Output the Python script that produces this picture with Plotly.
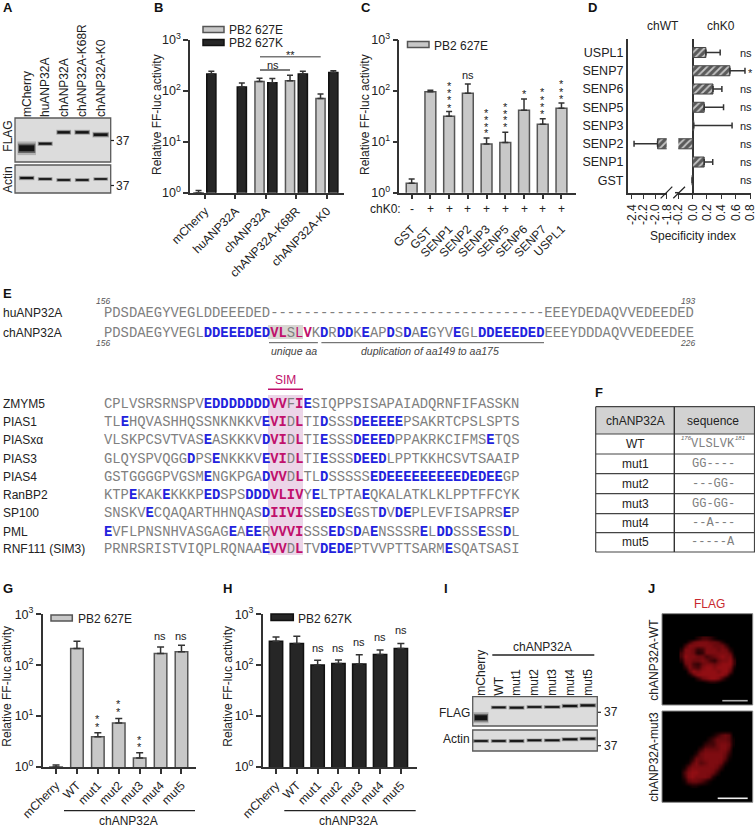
"""
Multi-panel figure: ANP32A SIM motif, polymerase activity and blots.
"""

import re
import plotly.graph_objects as go

W, H = 755, 828

# ── Colours ────────────────────────────────────────────────────────────────
INK = "#222222"
AXIS = "#333333"
LIGHT_BAR = "#c8c8c8"
LIGHT_EDGE = "#555555"
DARK_BAR = "#262626"
DARK_EDGE = "#111111"
GREY_SEQ = "#808080"
BLUE_SEQ = "#2222dd"
PINK_SEQ = "#c0106c"
BLOT_BG = "#dcdcdc"

# ── Data: panel B ──────────────────────────────────────────────────────────
b_groups = ["mCherry", "huANP32A", "chANP32A", "chANP32A-K68R", "chANP32A-K0"]
b_627e = [1.0, None, 150, 155, 70]
b_627e_top = [1.1, None, 175, 200, 86]
b_627k = [212, 117, 143, 212, 225]
b_627k_top = [240, 140, 172, 240, 245]

# ── Data: panel C ──────────────────────────────────────────────────────────
c_names = ["GST", "GST ", "SENP1", "SENP2", "SENP3", "SENP5", "SENP6", "SENP7", "USPL1"]
c_chk0 = ["-", "+", "+", "+", "+", "+", "+", "+", "+"]
c_vals = [1.53, 95, 31.5, 89, 9, 9.6, 41, 22, 45]
c_tops = [1.85, 102, 38.7, 135, 11.8, 15.3, 68, 28, 57]

# ── Data: panel D ──────────────────────────────────────────────────────────
d_names = ["GST", "SENP1", "SENP2", "SENP3", "SENP5", "SENP6", "SENP7", "USPL1"]
d_vals = [-0.008, 0.161, -1.957, 0.015, 0.161, 0.284, 0.52, 0.185]
d_tops = [0.004, 0.28, -1.957, 0.55, 0.431, 0.408, 0.73, 0.384]
d_senp2_low = -2.36
d_sig = ["ns", "ns", "ns", "ns", "ns", "ns", "*", "ns"]
d_left_ticks = [-2.4, -2.2, -2.0, -1.8]
d_right_ticks = [-0.2, 0.0, 0.2, 0.4, 0.6, 0.8]

# ── Data: panels G and H ───────────────────────────────────────────────────
mut_names = ["mCherry", "WT", "mut1", "mut2", "mut3", "mut4", "mut5"]
g_vals = [1.0, 212, 3.93, 7.3, 1.5, 169, 183]
g_tops = [1.09, 295, 4.7, 9.0, 1.91, 229, 247]
h_vals = [295, 266, 101, 108, 106, 162, 212]
h_tops = [360, 370, 125, 127, 160, 200, 266]

# ── Data: blots (lane, distance from top of membrane, lane width, thickness) ──
a_lanes = ["mCherry", "huANP32A", "chANP32A", "chANP32A-K68R", "chANP32A-K0"]
a_flag_y = [30.3, 25.7, 14.3, 14.3, 16.7]
a_flag_w = [1.0, 0.82, 0.8, 0.85, 0.9]
a_flag_t = [8.5, 2.8, 3.2, 3.2, 3.6]
a_actin_y = [13, 14, 15, 15, 14]
a_actin_w = [0.85, 0.8, 0.8, 0.8, 0.8]
a_actin_t = [2.8, 2.4, 2.4, 2.4, 2.2]

i_lanes = ["mCherry", "WT", "mut1", "mut2", "mut3", "mut4", "mut5"]
i_flag_y = [21, 10.7, 11, 10.3, 10.3, 9.3, 8.7]
i_flag_w = [0.85, 0.9, 0.9, 0.9, 0.95, 0.95, 0.95]
i_flag_t = [7.0, 2.4, 2.6, 2.4, 2.4, 2.8, 2.8]
i_actin_y = [11, 11, 11, 10.3, 10.3, 9.3, 8.7]
i_actin_w = [0.9, 0.9, 0.9, 0.9, 0.95, 0.95, 0.95]
i_actin_t = [2.4, 2.4, 2.6, 2.4, 2.4, 2.6, 2.6]

# ── Data: confocal intensity (0 to 9) ──────────────────────────────────────
nucleus_wt = [
    [0, 0, 0, 0, 2, 4, 4, 3, 1, 0, 0, 0, 0, 0],
    [0, 0, 3, 6, 7, 7, 7, 6, 6, 5, 2, 0, 0, 0],
    [0, 4, 7, 7, 7, 7, 7, 7, 6, 6, 6, 3, 0, 0],
    [2, 7, 7, 6, 3, 4, 7, 7, 7, 6, 7, 6, 2, 0],
    [4, 7, 7, 6, 2, 3, 7, 7, 7, 7, 7, 7, 5, 0],
    [4, 8, 7, 7, 6, 6, 4, 5, 6, 7, 8, 7, 7, 1],
    [2, 7, 7, 6, 6, 7, 6, 4, 3, 6, 7, 7, 8, 3],
    [0, 6, 7, 4, 3, 6, 7, 7, 6, 7, 8, 8, 8, 3],
    [0, 3, 7, 5, 4, 7, 8, 8, 7, 8, 8, 8, 7, 1],
    [0, 0, 5, 8, 7, 8, 8, 8, 8, 7, 8, 8, 5, 0],
    [0, 0, 1, 5, 8, 8, 8, 8, 8, 8, 8, 6, 1, 0],
    [0, 0, 0, 0, 3, 6, 7, 8, 8, 7, 4, 1, 0, 0],
    [0, 0, 0, 0, 0, 0, 1, 2, 2, 1, 0, 0, 0, 0],
]
nucleus_mut3 = [
    [0, 0, 0, 0, 0, 0, 0, 0, 0, 0, 0, 0, 0, 0],
    [0, 0, 0, 0, 0, 0, 0, 0, 1, 3, 5, 6, 5, 0],
    [0, 0, 0, 0, 0, 0, 0, 2, 4, 6, 6, 6, 5, 1],
    [0, 0, 0, 0, 0, 0, 3, 4, 4, 6, 7, 7, 6, 1],
    [0, 0, 0, 0, 0, 3, 6, 6, 6, 6, 7, 7, 5, 0],
    [0, 0, 0, 0, 2, 6, 7, 7, 7, 7, 7, 6, 3, 0],
    [0, 0, 0, 2, 6, 6, 7, 7, 7, 7, 7, 5, 1, 0],
    [0, 0, 1, 5, 7, 5, 6, 7, 7, 7, 6, 2, 0, 0],
    [0, 1, 5, 7, 7, 7, 7, 7, 7, 6, 3, 0, 0, 0],
    [0, 4, 7, 8, 8, 7, 7, 7, 6, 3, 0, 0, 0, 0],
    [0, 3, 7, 8, 7, 7, 7, 6, 2, 0, 0, 0, 0, 0],
    [0, 1, 5, 6, 6, 5, 3, 1, 0, 0, 0, 0, 0, 0],
    [0, 0, 0, 1, 1, 0, 0, 0, 0, 0, 0, 0, 0, 0],
]

# ── Data: alignments. [x] blue, {x} pink bold, (x) pink ────────────────────
top_names = ["huANP32A", "chANP32A"]
top_rows = [
    "PDSDAEGYVEGLDDEEEDED" + "-" * 33 + "EEEYDEDAQVVEDEEDED",
    "PDSDAEGYVEGL[DDEEEDED]{VL}S(L){V}K[D]R[DD]K[E]AP[D]S[D]A[E]GYV[E]GL[DDEEEDED]EEEYDDDAQVVEDEEDEE",
]
sim_names = ["ZMYM5", "PIAS1", "PIASxα", "PIAS3", "PIAS4", "RanBP2", "SP100", "PML", "RNF111 (SIM3)"]
sim_rows = [
    "CPLVSRSRNSPV[EDDDDDDD]{VV}F{I}[E]SIQPPSISAPAIADQRNFIFASSKN",
    "TL[E]HQVASHHQSSNKNKKV[E]{VI}D{L}TI[D]SSS[DEEEEE]PSAKRTCPSLSPTS",
    "VLSKPCSVTVAS[E]ASKKKV[D]{VI}D{L}TI[E]SSS[DEEED]PPAKRKCIFMS[E]TQS",
    "GLQYSPVQGG[D]PS[E]NKKKV[E]{VI}D{L}TI[E]SSS[DEED]LPPTKKHCSVTSAAIP",
    "GSTGGGGPVGSM[E]NGKPGA[D]{VV}D{L}TL[D]SSSSS[EDEEEEEEEEEDEDEE]GP",
    "KTP[E]KAK[E]KKKP[ED]SPS[DDD]{VLIV}Y[E]LTPTA[E]QKALATKLKLPPTFFCYK",
    "SNSKV[E]CQAQARTHHNQAS[D]{IIVI}SS[ED]S[E]GST[D]V[DE]PLEVFISAPRS[E]P",
    "[E]VFLPNSNHVASGAG[E]A[EE]R{VVVI}SSS[ED]S[D]A[E]NSSSR[E]L[DD]SSS[E]SS[D]L",
    "PRNRSRISTVIQPLRQNAA[E]{VV}D{L}TV[DEDE]PTVVPTTSARM[E]SQATSASI",
]

# ── Data: panel F ──────────────────────────────────────────────────────────
f_header = ["chANP32A", "sequence"]
f_names = ["WT", "mut1", "mut2", "mut3", "mut4", "mut5"]
f_seqs = ["VLSLVK", "GG----", "---GG-", "GG-GG-", "--A---", "-----A"]


# ── Helpers (pixel to paper) ───────────────────────────────────────────────
def xd(x0, x1):
    return [x0 / W, x1 / W]


def yd(top, bottom):
    return [1 - bottom / H, 1 - top / H]


annotations = []
shapes = []


def txt(x, y, text, size=12, color=INK, anchor="center", angle=0, family=None, vanchor="middle"):
    font = dict(size=size, color=color)
    if family:
        font["family"] = family
    annotations.append(dict(
        x=x / W, y=1 - y / H, xref="paper", yref="paper", text=text, showarrow=False,
        font=font, xanchor=anchor, yanchor=vanchor, textangle=angle, borderpad=0,
    ))


def rect(x0, y0, x1, y1, fill, line=None, width=1, layer="below"):
    shapes.append(dict(
        type="rect", xref="paper", yref="paper", x0=x0 / W, x1=x1 / W, y0=1 - y0 / H, y1=1 - y1 / H,
        fillcolor=fill, line=dict(color=line or fill, width=width if line else 0), layer=layer,
    ))


def hline(x0, y0, x1, y1, color=INK, width=1.2):
    shapes.append(dict(
        type="line", xref="paper", yref="paper", x0=x0 / W, x1=x1 / W, y0=1 - y0 / H, y1=1 - y1 / H,
        line=dict(color=color, width=width), layer="above",
    ))


def stars(x, ys):
    for y in ys:
        txt(x, y + 2.5, "*", size=11)


def seq_markup(s):
    s = re.sub(r"\[(\w+)\]", rf'<span style="color:{BLUE_SEQ}"><b>\1</b></span>', s)
    s = re.sub(r"\{(\w+)\}", rf'<span style="color:{PINK_SEQ}"><b>\1</b></span>', s)
    s = re.sub(r"\((\w+)\)", rf'<span style="color:{PINK_SEQ}">\1</span>', s)
    return s


def up_err(vals, tops):
    return [None if v is None else t - v for v, t in zip(vals, tops)]


def ax_name(kind, n):
    return kind + ("axis" if n == 1 else f"axis{n}")


def ax_id(kind, n):
    return kind if n == 1 else f"{kind}{n}"


fig = go.Figure()
axes = {}

LOG_Y = dict(
    type="log", range=[0, 3], tickvals=[1, 10, 100, 1000],
    ticktext=["10<sup>0</sup>", "10<sup>1</sup>", "10<sup>2</sup>", "10<sup>3</sup>"],
    ticks="outside", ticklen=5, tickwidth=1.5, tickcolor=AXIS, showline=True, linewidth=1.5,
    linecolor=AXIS, showgrid=False, zeroline=False, tickfont=dict(size=12.5, color=INK),
)
CAT_X = dict(
    type="category", ticks="outside", ticklen=5, tickwidth=1.5, tickcolor=AXIS, showline=True,
    linewidth=1.5, linecolor=AXIS, showgrid=False, zeroline=False, tickangle=-45,
    tickfont=dict(size=12, color=INK),
)


def bar_trace(names, vals, tops, fill, edge, nx, ny, width, offset, cap=3):
    return go.Bar(
        x=names, y=vals, xaxis=ax_id("x", nx), yaxis=ax_id("y", ny), width=width, offset=offset,
        marker=dict(color=fill, line=dict(color=edge, width=1.5)),
        error_y=dict(type="data", symmetric=False, array=up_err(vals, tops),
                     arrayminus=[0] * len(vals), color=AXIS, thickness=1.5, width=cap),
        hoverinfo="skip",
    )


# ── Panel B ────────────────────────────────────────────────────────────────
fig.add_trace(bar_trace(b_groups, b_627e, b_627e_top, LIGHT_BAR, LIGHT_EDGE, 1, 1, 0.3, -0.36))
fig.add_trace(bar_trace(b_groups, b_627k, b_627k_top, DARK_BAR, DARK_EDGE, 1, 1, 0.3, 0.06))
axes[ax_name("x", 1)] = dict(CAT_X, domain=xd(190, 344), range=[-0.49, 4.56], anchor="y",
                             categoryorder="array", categoryarray=b_groups)
axes[ax_name("y", 1)] = dict(LOG_Y, domain=yd(39.5, 192.7), anchor="x")
txt(157, 115, "Relative FF-luc activity", angle=-90)
rect(203, 26.5, 224, 32.5, LIGHT_BAR, LIGHT_EDGE, 1.5)
txt(228, 30, "PB2 627E", anchor="left")
rect(203, 39.5, 224, 45.5, DARK_BAR, DARK_EDGE, 1.5)
txt(228, 43, "PB2 627K", anchor="left")
hline(260, 56.7, 320.7, 56.7, "#777777", 1.4)
txt(290.7, 55, "**", size=11)
hline(260, 70, 290, 70, INK, 1.2)
txt(273, 65, "ns", size=11)

# ── Panel C ────────────────────────────────────────────────────────────────
fig.add_trace(bar_trace(c_names, c_vals, c_tops, LIGHT_BAR, LIGHT_EDGE, 2, 2, 0.58, -0.29))
axes[ax_name("x", 2)] = dict(CAT_X, domain=xd(399.3, 575.7), range=[-0.66, 8.76], anchor="y2",
                             categoryorder="array", categoryarray=c_names, ticklabelstandoff=18)
axes[ax_name("y", 2)] = dict(LOG_Y, domain=yd(39.5, 192.7), anchor="x2")
txt(365, 115, "Relative FF-luc activity", angle=-90)
rect(407.5, 41.5, 429, 47.5, LIGHT_BAR, LIGHT_EDGE, 1.5)
txt(432.7, 46, "PB2 627E", anchor="left")
c_x = [411.7 + 18.73 * i for i in range(len(c_names))]
txt(385, 209, "chK0:")
for x, sign in zip(c_x, c_chk0):
    txt(x, 209, sign)
txt(c_x[3], 75.5, "ns", size=11)
stars(c_x[2], [83.3, 90.7, 98, 105.3])
stars(c_x[4], [110, 117.3, 124.7, 131])
stars(c_x[5], [104, 111, 117.7, 124])
stars(c_x[6], [91.7])
stars(c_x[7], [90, 97.3, 104.3, 111.7])
stars(c_x[8], [81.7, 89, 96.7])

# ── Panel D (broken axis) ──────────────────────────────────────────────────
PATTERN = dict(shape="/", bgcolor="#5a5a5a", fgcolor="#c4c4c4", size=5, solidity=0.35)
senp2 = d_names.index("SENP2")
fig.add_trace(go.Bar(
    x=[d_vals[senp2]], y=[d_names[senp2]], orientation="h", xaxis="x3", yaxis="y3", width=0.55,
    marker=dict(pattern=PATTERN, line=dict(color="#444444", width=1)),
    error_x=dict(type="data", symmetric=False, array=[0], arrayminus=[d_vals[senp2] - d_senp2_low],
                 color=AXIS, thickness=1.5, width=3),
    hoverinfo="skip",
))
fig.add_trace(go.Bar(
    x=d_vals, y=d_names, orientation="h", xaxis="x4", yaxis="y3", width=0.55,
    marker=dict(pattern=PATTERN, line=dict(color="#444444", width=1)),
    error_x=dict(type="data", symmetric=False, array=up_err(d_vals, d_tops), arrayminus=[0] * len(d_vals),
                 color=AXIS, thickness=1.5, width=3),
    hoverinfo="skip",
))
D_X = dict(ticks="outside", ticklen=5, tickwidth=1.3, tickcolor=AXIS, showline=True, linewidth=1.5,
           linecolor=AXIS, showgrid=False, tickangle=-90, tickfont=dict(size=12, color=INK), anchor="y3",
           ticklabeloverflow="allow")
axes[ax_name("x", 3)] = dict(D_X, domain=xd(627.7, 666.7), range=[-2.469, -1.8], zeroline=False,
                             tickvals=d_left_ticks, ticktext=[f"{v:.1f}" for v in d_left_ticks])
axes[ax_name("x", 4)] = dict(D_X, domain=xd(678.3, 750.5), range=[-0.2, 0.807], zeroline=True,
                             zerolinecolor=AXIS, zerolinewidth=1.5,
                             tickvals=d_right_ticks, ticktext=[f"{v:.1f}" for v in d_right_ticks])
axes[ax_name("y", 3)] = dict(type="category", domain=yd(39, 192.7), range=[-0.68, 7.74], anchor="x3",
                             categoryorder="array", categoryarray=d_names, showline=True, linewidth=1.5,
                             linecolor=AXIS, showgrid=False, zeroline=False, ticks="",
                             tickfont=dict(size=12.5, color=INK))
hline(660.7, 198.3, 672.3, 186.7, INK, 1.2)
hline(673.3, 198.3, 685, 186.7, INK, 1.2)
hline(675, 192.7, 679, 192.7, AXIS, 1.5)
txt(662.7, 26, "chWT")
txt(720.7, 26, "chK0")
txt(693, 236, "Specificity index")
for i, sig in enumerate(d_sig):
    y = 180.3 - 18.25 * i
    if sig == "ns":
        txt(746, y, sig, size=11, anchor="center")
    else:
        txt(750, y + 2, sig, size=11)

# ── Panel G ────────────────────────────────────────────────────────────────
fig.add_trace(bar_trace(mut_names, g_vals, g_tops, LIGHT_BAR, LIGHT_EDGE, 5, 4, 0.6, -0.3, cap=3.5))
axes[ax_name("x", 5)] = dict(CAT_X, domain=xd(42.7, 195.7), range=[-0.638, 6.68], anchor="y4",
                             categoryorder="array", categoryarray=mut_names)
axes[ax_name("y", 4)] = dict(LOG_Y, domain=yd(614.3, 767), anchor="x5")
txt(7, 686.7, "Relative FF-luc activity", angle=-90)
rect(51, 615, 72.3, 621, LIGHT_BAR, LIGHT_EDGE, 1.5)
txt(76.7, 619.3, "PB2 627E", anchor="left")
g_x = [56 + 20.85 * i for i in range(len(mut_names))]
txt(g_x[5], 635.7, "ns", size=11)
txt(g_x[6], 635.7, "ns", size=11)
stars(g_x[2], [716.7, 724])
stars(g_x[3], [701.7, 709])
stars(g_x[4], [737.3, 744.7])
hline(64, 810.7, 195, 810.7, INK, 1.2)
txt(128.3, 821, "chANP32A")

# ── Panel H ────────────────────────────────────────────────────────────────
fig.add_trace(bar_trace(mut_names, h_vals, h_tops, DARK_BAR, DARK_EDGE, 6, 5, 0.64, -0.32, cap=3.5))
axes[ax_name("x", 6)] = dict(CAT_X, domain=xd(262.7, 416.7), range=[-0.64, 6.76], anchor="y5",
                             categoryorder="array", categoryarray=mut_names)
axes[ax_name("y", 5)] = dict(LOG_Y, domain=yd(614.3, 767), anchor="x6")
txt(228, 686.7, "Relative FF-luc activity", angle=-90)
rect(271, 614, 293.3, 620.5, DARK_BAR, DARK_EDGE, 1.5)
txt(297.3, 619, "PB2 627K", anchor="left")
h_x = [276 + 20.8 * i for i in range(len(mut_names))]
for k, y in zip(range(2, 7), [648.3, 648.3, 641.7, 636.7, 630]):
    txt(h_x[k], y, "ns", size=11)
hline(284.3, 810.7, 415.7, 810.7, INK, 1.2)
txt(348.3, 821, "chANP32A")


# ── Blots ──────────────────────────────────────────────────────────────────
def blot(nx, ny, box, lane0, step, names, ys, widths, thick, labels=False):
    x0, y0, x1, y1 = box
    rect(x0, y0, x1, y1, BLOT_BG, "#5a5a5a", 1.3)
    xax = dict(domain=xd(x0, x1), range=[(x0 - lane0) / step, (x1 - lane0) / step], anchor=ax_id("y", ny),
               showgrid=False, zeroline=False, showline=False, ticks="")
    if labels:
        xax.update(side="top", tickvals=list(range(len(names))), ticktext=names, tickangle=-90,
                   tickfont=dict(size=12, color=INK))
    else:
        xax.update(showticklabels=False)
    axes[ax_name("x", nx)] = xax
    axes[ax_name("y", ny)] = dict(domain=yd(y0, y1), range=[y1 - y0, 0], anchor=ax_id("x", nx), visible=False)
    for lane, (y, w, t) in enumerate(zip(ys, widths, thick)):
        for kt, kw, alpha in ((1.6, 1.0, 0.2), (1.1, 0.93, 0.45), (0.7, 0.82, 0.9)):
            half = w * kw / 2
            fig.add_trace(go.Scatter(
                x=[lane - half, lane + half], y=[y, y], mode="lines", xaxis=ax_id("x", nx), yaxis=ax_id("y", ny),
                line=dict(color="#0c0c0c", width=t * kt), opacity=alpha, hoverinfo="skip",
            ))


blot(7, 6, (15, 118, 110.7, 162), 26.7, 18.5, a_lanes, a_flag_y, a_flag_w, a_flag_t, labels=True)
blot(8, 7, (15, 165, 110.7, 193), 26.7, 18.5, a_lanes, a_actin_y, a_actin_w, a_actin_t)
txt(8, 136.7, "FLAG", angle=-90)
txt(8, 180, "Actin", angle=-90)
hline(111, 140.5, 114, 140.5, INK, 1.2)
txt(115, 141, "37", anchor="left")
hline(111, 185.5, 114, 185.5, INK, 1.2)
txt(115, 186, "37", anchor="left")

blot(9, 8, (472.7, 696.7, 597.3, 726), 481, 17.8, i_lanes, i_flag_y, i_flag_w, i_flag_t, labels=True)
blot(10, 9, (472.7, 730, 597.3, 751), 481, 17.8, i_lanes, i_actin_y, i_actin_w, i_actin_t)
txt(542.7, 647.3, "chANP32A")
hline(492.3, 655, 594.3, 655, INK, 1.3)
txt(470.7, 713, "FLAG", anchor="right")
txt(470.7, 739, "Actin", anchor="right")
hline(598, 712.3, 601, 712.3, INK, 1.2)
txt(603, 712.3, "37", anchor="left")
hline(598, 745.7, 601, 745.7, INK, 1.2)
txt(603, 745.7, "37", anchor="left")

# ── Panel J ────────────────────────────────────────────────────────────────
RED_SCALE = [[0, "#000000"], [0.35, "#340306"], [1, "#a41016"]]
for nx, ny, z, box in ((11, 10, nucleus_wt, (679.3, 636.2, 736.7, 683.8)),
                       (12, 11, nucleus_mut3, (678, 727.7, 735.3, 788.3))):
    fig.add_trace(go.Heatmap(
        z=z, xaxis=ax_id("x", nx), yaxis=ax_id("y", ny), colorscale=RED_SCALE, zmin=0, zmax=9,
        zsmooth="best", showscale=False, hoverinfo="skip",
    ))
    axes[ax_name("x", nx)] = dict(domain=xd(box[0], box[2]), range=[-0.5, 13.5], anchor=ax_id("y", ny), visible=False)
    axes[ax_name("y", ny)] = dict(domain=yd(box[1], box[3]), range=[12.5, -0.5], anchor=ax_id("x", nx), visible=False)
rect(662, 613.7, 752.7, 705, "#000000", "#888888", 1)
rect(662, 711, 752.7, 802.3, "#000000", "#888888", 1)
hline(722.3, 700.7, 747.7, 700.7, "#b0b0b0", 1.6)
hline(717.7, 798.3, 747.7, 798.3, "#f0f0f0", 1.6)
txt(709, 604, "FLAG", color="#c8282e")
txt(654, 659.7, "chANP32A-WT", angle=-90)
txt(654, 756.7, "chANP32A-mut3", angle=-90)

# ── Panel E ────────────────────────────────────────────────────────────────
MONO = "Liberation Mono"
SEQ_SIZE = 13.85
rect(268, 325, 303, 339, "#d8d6d2")
rect(268, 395, 303, 555, "#ecd5e8")
for name, row, y in zip(top_names, top_rows, [312.7, 332.7]):
    txt(2, y, name, anchor="left")
    txt(103, y, seq_markup(row), size=SEQ_SIZE, color=GREY_SEQ, anchor="left", family=MONO)
txt(95, 301.5, "<i>156</i>", size=8.5, color="#555555", anchor="left")
txt(95, 343, "<i>156</i>", size=8.5, color="#555555", anchor="left")
txt(696, 301.5, "<i>193</i>", size=8.5, color="#555555", anchor="right")
txt(696, 343, "<i>226</i>", size=8.5, color="#555555", anchor="right")
hline(269, 342.7, 317.9, 342.7, "#555555", 1)
hline(321.4, 342.7, 544, 342.7, "#555555", 1)
txt(293.6, 351, "<i>unique aa</i>", size=10.5, color="#444444")
txt(430.4, 351, "<i>duplication of aa149 to aa175</i>", size=10.5, color="#444444")

txt(285.7, 380, "SIM", size=12, color=PINK_SEQ)
hline(268, 389.3, 303, 389.3, PINK_SEQ, 1.5)
sim_y = [403.7, 422, 440.3, 458.7, 477, 495, 513.3, 531.7, 549.3]
for name, row, y in zip(sim_names, sim_rows, sim_y):
    txt(2, y, name, anchor="left")
    txt(103, y, seq_markup(row), size=SEQ_SIZE, color=GREY_SEQ, anchor="left", family=MONO)

# ── Panel F ────────────────────────────────────────────────────────────────
f_lines = [406.7, 434, 454, 473.7, 493.7, 513.7, 532.7, 552]
rect(595.7, 406.7, 755, 434, "#d2d2d2")
for y in f_lines:
    hline(595.7, y, 755, y, "#444444", 1.2)
hline(595.7, 406.7, 595.7, 552, "#444444", 1.2)
hline(674.3, 406.7, 674.3, 552, "#333333", 1.4)
hline(754.5, 406.7, 754.5, 552, "#444444", 1.2)
txt(635, 420.7, f_header[0])
txt(713, 420.7, f_header[1])
for name, seq, top, bottom in zip(f_names, f_seqs, f_lines[1:], f_lines[2:]):
    y = (top + bottom) / 2
    txt(635, y, name)
    txt(713, y, seq, size=12, color=GREY_SEQ, family=MONO)
txt(686, 438, "<i>176</i>", size=6, color="#666666")
txt(740, 438, "<i>181</i>", size=6, color="#666666")

# ── Panel letters ──────────────────────────────────────────────────────────
for letter, x, y in (("A", 2, 7), ("B", 153, 7), ("C", 360, 7), ("D", 587, 7), ("E", 2, 293),
                     ("F", 594, 392), ("G", 2, 588), ("H", 222, 588), ("I", 443, 588), ("J", 647, 588)):
    txt(x, y, f"<b>{letter}</b>", size=13, color="#111111", anchor="left")

# ── Layout ─────────────────────────────────────────────────────────────────
fig.update_layout(
    template="none",
    width=W, height=H, autosize=False,
    margin=dict(l=0, r=0, t=0, b=0, pad=0),
    paper_bgcolor="white", plot_bgcolor="rgba(0,0,0,0)",
    font=dict(family="Liberation Sans, Arial, sans-serif", size=12, color=INK),
    barmode="overlay", showlegend=False,
    annotations=annotations, shapes=shapes,
    **axes,
)

# the page's default body margin would push the 755 px figure out of the window
fig.write_html("out.html", config={"displayModeBar": False},
               post_script="document.body.style.margin='0';")
